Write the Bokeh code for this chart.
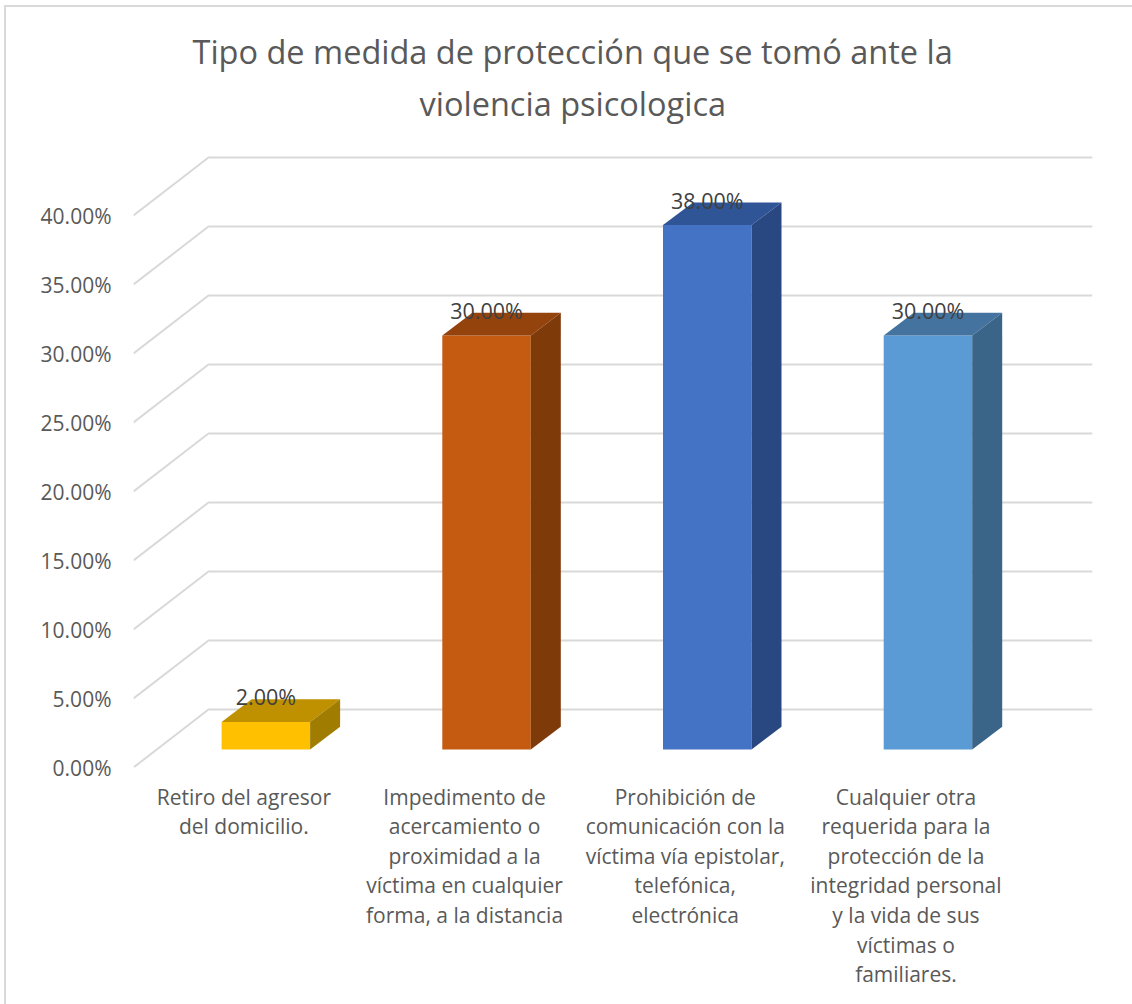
from bokeh.plotting import figure
from bokeh.embed import file_html
from bokeh.resources import INLINE
from bokeh.models import Range1d, LinearAxis, FixedTicker, Title, ColumnDataSource
from bokeh.core.properties import value

title_lines = ["Tipo de medida de protección que se tomó ante la", "violencia psicologica"]
categories = [
    "Retiro del agresor\ndel domicilio.",
    "Impedimento de\nacercamiento o\nproximidad a la\nvíctima en cualquier\nforma, a la distancia",
    "Prohibición de\ncomunicación con la\nvíctima vía epistolar,\ntelefónica,\nelectrónica",
    "Cualquier otra\nrequerida para la\nprotección de la\nintegridad personal\ny la vida de sus\nvíctimas o\nfamiliares.",
]
values = [2.0, 30.0, 38.0, 30.0]
y_ticks = [0, 5, 10, 15, 20, 25, 30, 35, 40]
front_colors = ["#FFC000", "#C55A11", "#4472C4", "#5B9BD5"]
top_colors = ["#BF9000", "#94430D", "#2F5597", "#44739F"]
side_colors = ["#A07C00", "#7F3A0A", "#294780", "#3A6589"]

W, H = 1132, 1004
OX, OY = 6, 7                 # canvas origin inside the chart-area border
F_L, F_R, F_T, F_B = 133, 1092, 150, 767
PX_X = 220.7   # pixels per category
PX_Y = 13.8    # pixels per percentage point
FONT = "Open Sans"
GREY = "#595959"

def ux(px): return px / PX_X
def uy(px): return px / PX_Y

x_end = ux(F_R - F_L)
y_end = uy(F_B - F_T)

p = figure(width=W - OX, height=H - OY, output_backend="svg", toolbar_location=None,
           x_range=Range1d(0, x_end), y_range=Range1d(0, y_end),
           x_axis_type=None, y_axis_type=None,
           min_border_left=F_L - OX, min_border_right=W - F_R,
           min_border_top=F_T - OY, min_border_bottom=H - F_B,
           frame_width=F_R - F_L, frame_height=F_B - F_T,
           margin=(OY - 2, 0, 0, OX - 2))
p.styles = {"border-left": "2px solid #D9D9D9", "border-top": "2px solid #D9D9D9",
            "box-sizing": "content-box"}
p.outline_line_color = None
p.xgrid.visible = False
p.ygrid.visible = False
p.background_fill_color = "white"
p.border_fill_color = "white"

# title: two centred lines stacked above the plot
title_style = dict(align="left", text_font=FONT, text_font_size="32.5px",
                   text_font_style="normal", text_color=GREY, vertical_align="bottom")
try:
    title_top = Title(text=title_lines[0], offset=192 - F_L, standoff=-40, **title_style)
    lower_standoff = 50
except ValueError:
    title_top = Title(text=title_lines[0], offset=192 - F_L, standoff=2, **title_style)
    lower_standoff = 28
p.add_layout(Title(text=title_lines[1], offset=419 - F_L, standoff=lower_standoff, **title_style), "above")
p.add_layout(title_top, "above")

# walls: diagonal floor line on the side wall + horizontal on the back wall
WALL_DX, WALL_DY = ux(75), uy(58)
xs = [[0, WALL_DX, x_end] for _ in y_ticks]
ys = [[v, v + WALL_DY, v + WALL_DY] for v in y_ticks]
p.multi_line(xs, ys, line_color="#D9D9D9", line_width=2)

# bars
BAR_W, BASE_DX, BASE_DY, D_X, D_Y = ux(88.5), ux(22), uy(18), ux(30), uy(22.7)
for i, v in enumerate(values):
    left = i + 0.5 + BASE_DX - BAR_W / 2
    right = left + BAR_W
    base = BASE_DY
    top = base + v
    p.patch([left, right, right, left], [base, base, top, top],
            fill_color=front_colors[i], line_color=None)
    p.patch([left, right, right + D_X, left + D_X], [top, top, top + D_Y, top + D_Y],
            fill_color=top_colors[i], line_color=None)
    p.patch([right, right + D_X, right + D_X, right], [base, base + D_Y, top + D_Y, top],
            fill_color=side_colors[i], line_color=None)

src = ColumnDataSource(dict(
    x=[i + 0.5 + BASE_DX for i in range(len(values))],
    y=[BASE_DY + v for v in values],
    t=[f"{v:.2f}%" for v in values],
))
p.text("x", "y", text="t", source=src, text_align="center", text_baseline="middle",
       y_offset=-25, text_font=value(FONT), text_font_size="21.5px", text_color="#404040")

# axes
ya = LinearAxis(ticker=FixedTicker(ticks=y_ticks),
                major_label_overrides={v: f"{v:.2f}%" for v in y_ticks})
ya.axis_line_color = None
ya.major_tick_line_color = None
ya.minor_tick_line_color = None
ya.major_label_standoff = 16
ya.major_label_text_font = FONT
ya.major_label_text_font_size = "21px"
ya.major_label_text_color = GREY
p.add_layout(ya, "left")

tick_pos = [i + 0.5 for i in range(len(categories))]
xa = LinearAxis(ticker=FixedTicker(ticks=tick_pos),
                major_label_overrides={t: c for t, c in zip(tick_pos, categories)})
xa.axis_line_color = None
xa.major_tick_line_color = None
xa.minor_tick_line_color = None
xa.major_label_standoff = 9
xa.major_label_text_font = FONT
xa.major_label_text_font_size = "21px"
xa.major_label_text_color = GREY
xa.major_label_text_line_height = 1.058
xa.major_label_orientation = "horizontal"
p.add_layout(xa, "below")

open("out.html", "w").write(file_html(p, INLINE))
